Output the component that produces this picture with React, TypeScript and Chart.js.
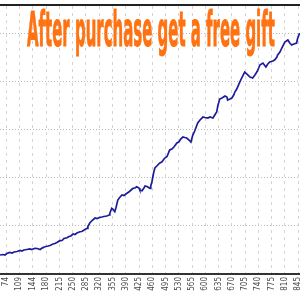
import React, { useEffect, useLayoutEffect, useRef } from "react";
import { Chart, registerables } from "chart.js";

Chart.register(...registerables);

const tickLabels = [74, 109, 144, 180, 215, 250, 285, 320, 355, 390, 425, 460, 495, 530, 565, 600, 635, 670, 705, 740, 775, 810, 845];
const yTicks = [0, 1000, 2000, 3000, 4000, 5000];

const xValues = [
  58, 66, 71, 76, 84, 90, 95, 103, 111, 116,
  121, 129, 137, 142, 150, 156, 164, 169, 171, 179,
  185, 190, 198, 203, 208, 216, 222, 227, 235, 240,
  245, 251, 256, 261, 269, 274, 280, 288, 290, 295,
  301, 309, 314, 322, 327, 332, 340, 346, 348, 353,
  356, 361, 364, 369, 375, 380, 385, 393, 398, 404,
  409, 414, 419, 425, 427, 433, 438, 441, 446, 454,
  456, 459, 464, 467, 472, 480, 485, 493, 499, 506,
  512, 517, 525, 530, 535, 541, 546, 551, 557, 562,
  567, 572, 580, 586, 594, 599, 607, 612, 620, 625,
  630, 633, 638, 644, 652, 657, 659, 665, 670, 675,
  678, 683, 691, 696, 704, 710, 718, 725, 731, 736,
  741, 744, 752, 760, 765, 770, 778, 783, 789, 791,
  797, 802, 810, 818, 823, 828, 834, 841, 844, 849,
];
const balance = [
  396, 406, 396, 427, 448, 437, 458, 469, 490, 479,
  500, 510, 521, 510, 535, 531, 510, 542, 552, 573,
  583, 594, 625, 635, 656, 694, 698, 739, 756, 781,
  792, 833, 823, 854, 881, 885, 917, 952, 989, 1062,
  1114, 1166, 1156, 1181, 1187, 1198, 1208, 1229, 1264, 1369,
  1354, 1298, 1375, 1541, 1604, 1646, 1635, 1681, 1708, 1750,
  1785, 1791, 1818, 1791, 1750, 1735, 1791, 1833, 1823, 1785,
  1833, 1916, 2125, 2208, 2250, 2312, 2333, 2416, 2447, 2583,
  2604, 2645, 2729, 2750, 2812, 2854, 2843, 2833, 2791, 2750,
  2895, 2979, 3145, 3208, 3270, 3260, 3249, 3270, 3249, 3312,
  3374, 3499, 3645, 3666, 3708, 3687, 3624, 3645, 3666, 3729,
  3791, 3854, 3999, 4083, 4208, 4166, 4104, 4083, 4145, 4208,
  4291, 4353, 4395, 4312, 4374, 4416, 4437, 4458, 4520, 4562,
  4624, 4708, 4833, 4874, 4812, 4770, 4791, 4812, 4916, 5020,
];

const titleText = "After purchase get a free gift";

const frameLines = {
  id: "frameLines",
  afterDraw(chart: any) {
    const { ctx, chartArea } = chart;
    ctx.save();
    ctx.strokeStyle = "#222";
    ctx.lineWidth = 2;
    ctx.beginPath();
    ctx.moveTo(0, chartArea.top - 1);
    ctx.lineTo(chart.width, chartArea.top - 1);
    ctx.stroke();
    ctx.restore();
  },
};

export default function App() {
  const canvasRef = useRef<HTMLCanvasElement | null>(null);
  const textRef = useRef<HTMLSpanElement | null>(null);

  useLayoutEffect(() => {
    const el = textRef.current;
    if (el) {
      const w = el.offsetWidth;
      el.style.transform = `scaleX(${248 / w})`;
    }
  }, []);

  useEffect(() => {
    if (!canvasRef.current) return;
    const chart = new Chart(canvasRef.current, {
      type: "line",
      data: {
        datasets: [
          {
            data: xValues.map((x, i) => ({ x, y: balance[i] })),
            borderColor: "#1c1c9c",
            borderWidth: 1.7,
            pointRadius: 0,
            tension: 0,
            fill: false,
          },
        ],
      },
      options: {
        animation: false,
        responsive: false,
        maintainAspectRatio: false,
        layout: { padding: { top: 6, left: 0, right: 0, bottom: 0 } },
        plugins: { legend: { display: false }, tooltip: { enabled: false }, title: { display: false } },
        scales: {
          x: {
            type: "linear",
            min: 58,
            max: 850,
            afterBuildTicks: (scale: any) => {
              scale.ticks = tickLabels.map((v) => ({ value: v }));
            },
            afterFit: (scale: any) => {
              scale.height = 26;
              scale.paddingLeft = 0;
              scale.paddingRight = 0;
            },
            ticks: {
              autoSkip: false,
              minRotation: 90,
              maxRotation: 90,
              padding: 3,
              color: "#4a4a4a",
              font: { size: 8, family: "DejaVu Sans Condensed" },
              callback: (v: any) => String(v),
            },
            grid: { color: "#d4d4d4", lineWidth: 1, drawTicks: false },
            border: { display: true, color: "#333", width: 2, dash: [3, 4] },
          },
          y: {
            type: "linear",
            min: 0,
            max: 5583,
            afterBuildTicks: (scale: any) => {
              scale.ticks = yTicks.map((v) => ({ value: v }));
            },
            afterFit: (scale: any) => {
              scale.width = 0;
              scale.paddingTop = 0;
              scale.paddingBottom = 0;
            },
            ticks: { display: false },
            grid: { color: "#bcbcbc", lineWidth: 1, drawTicks: false },
            border: { display: false, dash: [1, 2] },
          },
        },
      },
      plugins: [frameLines],
    });
    return () => chart.destroy();
  }, []);

  return (
    <div style={{ position: "fixed", left: 0, top: 0, width: 300, height: 300, background: "#fff", overflow: "hidden" }}>
      <canvas ref={canvasRef} width={300} height={300} style={{ position: "absolute", left: 0, top: 0 }} />
      <div style={{ position: "absolute", left: 27, top: 5, whiteSpace: "nowrap", pointerEvents: "none" }}>
        <span
          ref={textRef}
          style={{
            display: "inline-block",
            transformOrigin: "left top",
            fontFamily: "DejaVu Sans",
            fontWeight: "bold",
            fontSize: 48,
            lineHeight: "48px",
            color: "#ff7212",
            WebkitTextStroke: "1px #ff7212",
          }}
        >
          {titleText}
        </span>
      </div>
    </div>
  );
}
